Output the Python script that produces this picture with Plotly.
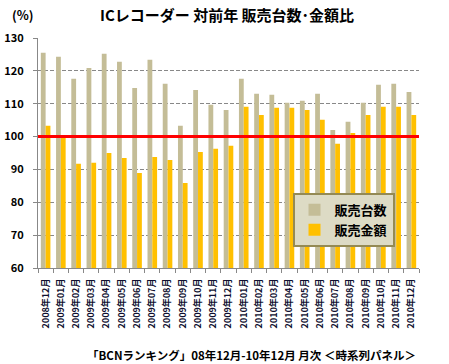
import plotly.graph_objects as go

categories = ["2008年12月", "2009年01月", "2009年02月", "2009年03月", "2009年04月", "2009年05月",
              "2009年06月", "2009年07月", "2009年08月", "2009年09月", "2009年10月", "2009年11月",
              "2009年12月", "2010年01月", "2010年02月", "2010年03月", "2010年04月", "2010年05月",
              "2010年06月", "2010年07月", "2010年08月", "2010年09月", "2010年10月", "2010年11月",
              "2010年12月"]
units_ratio = [125.5, 124.3, 117.6, 120.9, 125.2, 122.8, 114.8, 123.4, 116.1, 103.3, 114.2, 109.7,
               108.1, 117.6, 113.0, 112.7, 110.3, 110.9, 113.0, 102.0, 104.5, 110.3, 115.8, 116.1,
               113.6]
value_ratio = [103.3, 99.9, 91.7, 92.0, 95.0, 93.5, 88.9, 93.8, 92.9, 85.9, 95.3, 96.3,
               97.2, 109.1, 106.6, 108.8, 108.8, 108.1, 105.1, 97.8, 101.1, 106.6, 109.1, 109.1,
               106.6]
reference_level = 100
y_ticks = [60, 70, 80, 90, 100, 110, 120, 130]

FONT = "Noto Sans CJK JP"

fig = go.Figure()
fig.add_trace(go.Bar(x=categories, y=units_ratio, name="<b>販売台数</b>",
                     marker=dict(color="#C4BD97", line=dict(width=0)), legendgroup="a"))
fig.add_trace(go.Bar(x=categories, y=value_ratio, name="<b>販売金額</b>",
                     marker=dict(color="#FFC000", line=dict(width=0)), legendgroup="b"))

fig.add_shape(type="line", xref="paper", x0=0, x1=1, yref="y",
              y0=reference_level, y1=reference_level,
              line=dict(color="#FF0000", width=3), layer="above")

fig.update_layout(
    width=449, height=364,
    margin=dict(l=38, r=30, t=38, b=96, autoexpand=False),
    paper_bgcolor="white", plot_bgcolor="white",
    barmode="group", bargap=0.37, bargroupgap=0,
    font=dict(family=FONT, color="black"),
    showlegend=True,
    legend=dict(x=0.668, y=0.327, xanchor="left", yanchor="top",
                bgcolor="#DDDBC5", bordercolor="#948A54", borderwidth=2,
                font=dict(size=13, family=FONT, color="black"),
                tracegroupgap=25, entrywidth=100, itemwidth=30,
                traceorder="normal"),
    xaxis=dict(type="category", tickangle=-90, showgrid=False, automargin=False,
               tickfont=dict(size=9, family=FONT, color="#101030", weight="bold"),
               ticks="outside", ticklen=4, tickcolor="#888888",
               ticklabelstandoff=6,
               showline=True, linecolor="#888888", linewidth=1,
               tickson="boundaries"),
    yaxis=dict(range=[60, 130], tickvals=y_ticks, showgrid=True, automargin=False,
               gridcolor="#888888", griddash="4px,2px", gridwidth=1,
               showline=True, linecolor="#888888", linewidth=1,
               ticks="outside", ticklen=4, tickcolor="#888888",
               ticklabelstandoff=7,
               tickfont=dict(size=11, family=FONT, color="black", weight="bold"),
               zeroline=False),
)

fig.add_annotation(text="<b>ICレコーダー 対前年 販売台数･金額比</b>", xref="paper", yref="paper",
                   x=(227 - 38) / 381, y=1, yshift=24, showarrow=False,
                   font=dict(size=15, family=FONT), xanchor="center", yanchor="middle")
fig.add_annotation(text="<b>(%)</b>", xref="paper", yref="paper",
                   x=(10 - 38) / 381, y=1, yshift=24, showarrow=False,
                   font=dict(size=12.5, family=FONT), xanchor="left", yanchor="middle")
fig.add_annotation(text="<b>「BCNランキング」08年12月-10年12月 月次 ＜時系列パネル＞</b>",
                   xref="paper", yref="paper",
                   x=(251 - 38) / 381, y=0, yshift=-87, showarrow=False,
                   font=dict(size=11.5, family=FONT), xanchor="center", yanchor="middle")

# remove the browser's default 8px body margin so the figure fills the window exactly
fig.write_html("out.html", config={"displayModeBar": False},
               post_script="document.body.style.margin='0';document.body.style.overflow='hidden';")
